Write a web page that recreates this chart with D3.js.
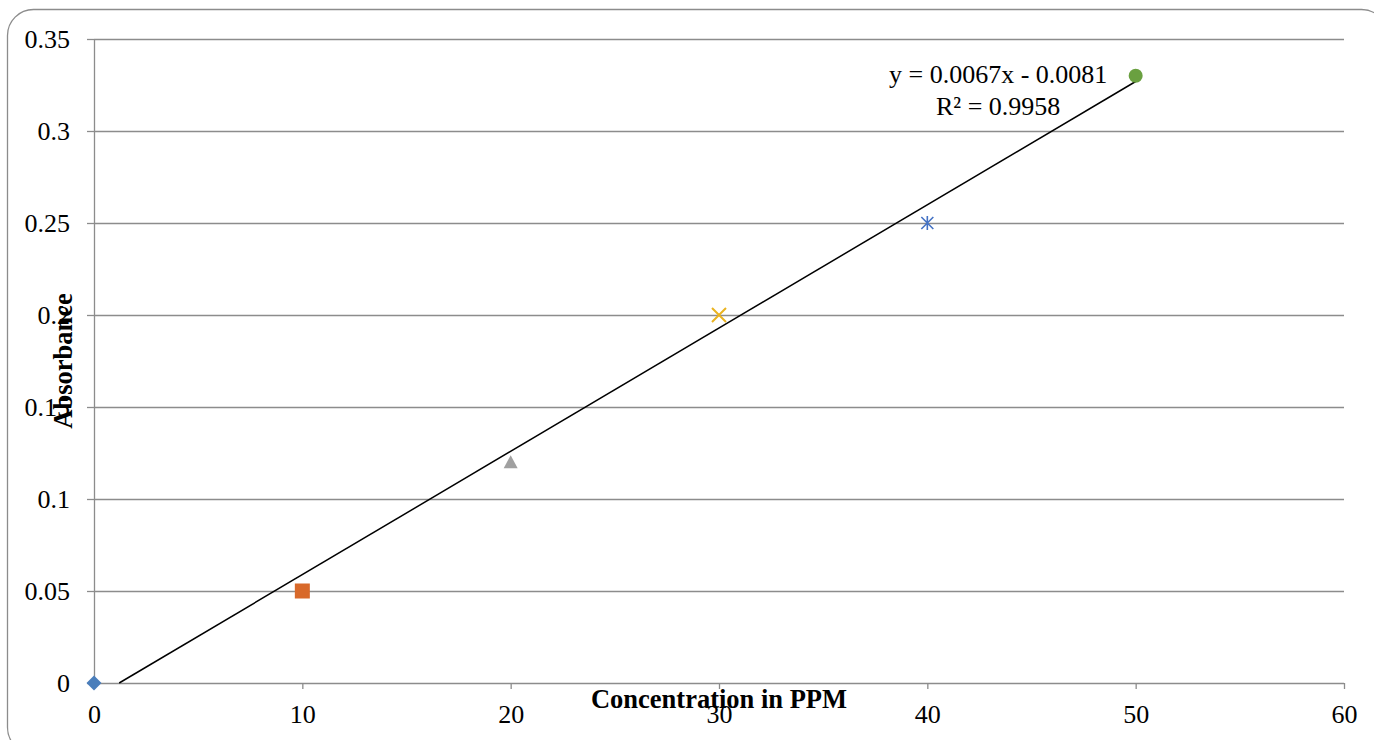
<!DOCTYPE html>
<html>
<head>
<meta charset="utf-8">
<script src="https://cdn.jsdelivr.net/npm/d3@7"></script>
<style>
  body { margin: 0; background: #fff; }
  text { font-family: "Liberation Serif", "Times New Roman", serif; }
</style>
</head>
<body>
<svg id="chart" width="1374" height="740"></svg>
<script>
// concentration (ppm) and absorbance readings
const conc = [0, 10, 20, 30, 40, 50];
const absorbance = [0, 0.05, 0.12, 0.2, 0.25, 0.33];
const markerShapes = ["diamond", "square", "triangle", "cross", "star", "circle"];
const markerColors = ["#4a7ebb", "#d8692a", "#a0a0a0", "#eab320", "#4472c4", "#6aa040"];
const xTicks = [0, 10, 20, 30, 40, 50, 60];
const yTicks = [0, 0.05, 0.1, 0.15, 0.2, 0.25, 0.3, 0.35];
const slope = 0.0067, intercept = -0.0081;
const eqLines = ["y = 0.0067x - 0.0081", "R² = 0.9958"];

const svg = d3.select("#chart");
const margin = { top: 39, right: 30, bottom: 57, left: 94 };
const w = 1344 - margin.left, h = 683 - margin.top;

// outer rounded frame
svg.append("rect")
  .attr("x", 7.5).attr("y", 9.5).attr("width", 1380).attr("height", 744)
  .attr("rx", 26).attr("fill", "none").attr("stroke", "#8c8c8c").attr("stroke-width", 1.3);

const g = svg.append("g").attr("transform", `translate(${margin.left},${margin.top})`);

const x = d3.scaleLinear().domain([0, 60]).range([0, w]);
const y = d3.scaleLinear().domain([0, 0.35]).range([h, 0]);

// gridlines
g.selectAll(".grid").data(yTicks.filter(d => d > 0)).join("line")
  .attr("class", "grid")
  .attr("x1", 0).attr("x2", w)
  .attr("y1", d => Math.round(y(d)) + 0.5).attr("y2", d => Math.round(y(d)) + 0.5)
  .attr("stroke", "#8c8c8c").attr("stroke-width", 1.3);

// y axis
const yAxis = g.append("g").call(d3.axisLeft(y).tickValues(yTicks).tickSize(7).tickPadding(17)
  .tickFormat(d => d3.format("")(+d.toFixed(2))));
yAxis.select(".domain").attr("stroke", "#8c8c8c").attr("stroke-width", 1.3).attr("d", `M0.5,0V${h}`);
yAxis.selectAll(".tick line").attr("stroke", "#8c8c8c").attr("stroke-width", 1.3);
yAxis.selectAll("text").attr("font-size", 26).attr("fill", "#000")
  .attr("font-family", "Liberation Serif, serif");

// x axis
const xAxis = g.append("g").attr("transform", `translate(0,${h})`)
  .call(d3.axisBottom(x).tickValues(xTicks).tickSize(6));
xAxis.select(".domain").attr("stroke", "#8c8c8c").attr("stroke-width", 1.3).attr("d", `M0,0.5H${w}`);
xAxis.selectAll(".tick line").attr("stroke", "#8c8c8c").attr("stroke-width", 1.3);
xAxis.selectAll("text").attr("font-size", 26).attr("fill", "#000")
  .attr("y", 40).attr("dy", null)
  .attr("font-family", "Liberation Serif, serif");

// axis titles
g.append("text")
  .attr("x", x(30)).attr("y", h + 25)
  .attr("text-anchor", "middle")
  .attr("font-size", 26.5).attr("font-weight", "bold")
  .text("Concentration in PPM");

g.append("text")
  .attr("transform", `translate(${-22},${y(0.175)}) rotate(-90)`)
  .attr("text-anchor", "middle")
  .attr("font-size", 26.5).attr("font-weight", "bold")
  .text("Absorbance");

// linear trendline
const x0 = -intercept / slope;
g.append("line")
  .attr("x1", x(x0)).attr("y1", y(0))
  .attr("x2", x(50)).attr("y2", y(slope * 50 + intercept))
  .attr("stroke", "#000").attr("stroke-width", 1.5);

// markers
const pts = conc.map((c, i) => ({ c, a: absorbance[i], shape: markerShapes[i], color: markerColors[i] }));
const mk = g.selectAll(".pt").data(pts).join("g")
  .attr("class", "pt")
  .attr("transform", d => `translate(${x(d.c)},${y(d.a)})`);

mk.each(function (d) {
  const s = d3.select(this);
  if (d.shape === "diamond") {
    s.append("path").attr("d", "M0,-7.5L7.5,0L0,7.5L-7.5,0Z").attr("fill", d.color);
  } else if (d.shape === "square") {
    s.append("rect").attr("x", -7.5).attr("y", -7.5).attr("width", 15).attr("height", 15).attr("fill", d.color);
  } else if (d.shape === "triangle") {
    s.append("path").attr("d", "M0,-7L7,6L-7,6Z").attr("fill", d.color);
  } else if (d.shape === "cross") {
    s.append("path").attr("d", "M-7,-7L7,7M-7,7L7,-7").attr("stroke", d.color).attr("stroke-width", 2);
  } else if (d.shape === "star") {
    s.append("path").attr("d", "M-6,-6L6,6M-6,6L6,-6M0,-7L0,7").attr("stroke", d.color).attr("stroke-width", 1.6);
  } else {
    s.append("circle").attr("r", 7).attr("fill", d.color);
  }
});

// equation label
const eq = g.append("text").attr("text-anchor", "middle").attr("font-size", 26);
eq.selectAll("tspan").data(eqLines).join("tspan")
  .attr("x", x(43.4))
  .attr("y", (d, i) => 44 + i * 32)
  .text(d => d);
</script>
</body>
</html>
